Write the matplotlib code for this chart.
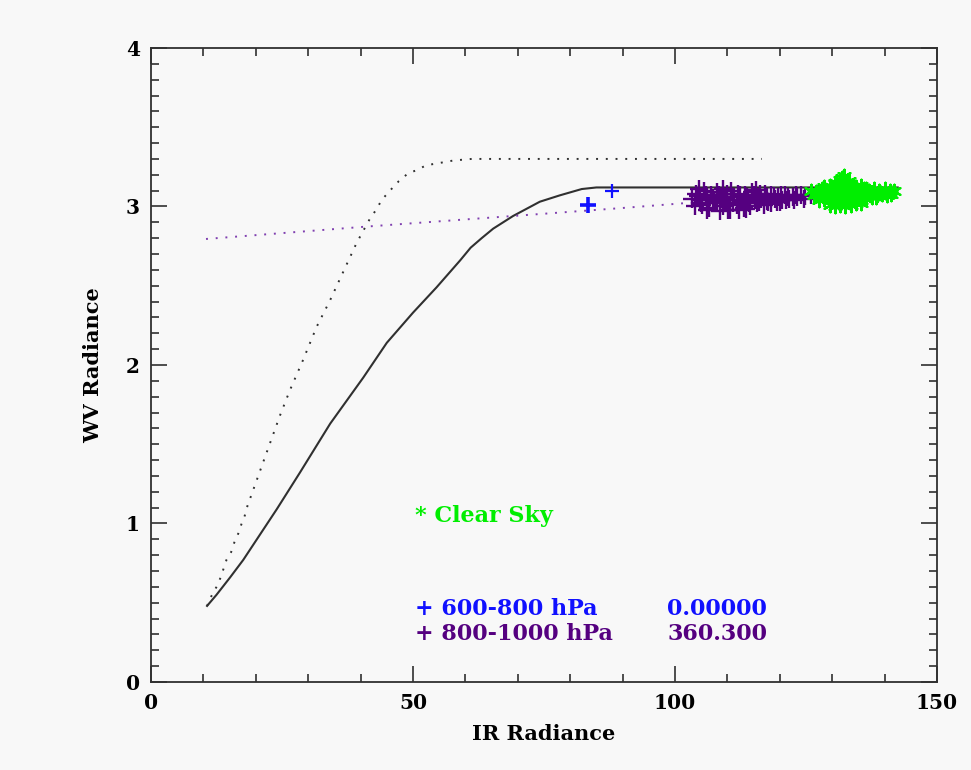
import matplotlib.pyplot as plt
from matplotlib.ticker import MultipleLocator

# model curve (solid) and second model curve (dotted)
curve_x = [10.7, 12.5, 15.1, 17.6, 20.2, 24.0, 28.4, 34.2, 40.5, 45.0, 50.0, 54.5,
           59.0, 61.0, 63.1, 65.3, 69.1, 74.2, 78.0, 82.2, 85.0, 142.5]
curve_y = [0.48, 0.55, 0.66, 0.77, 0.90, 1.09, 1.32, 1.63, 1.92, 2.14, 2.33, 2.49,
           2.66, 2.74, 2.80, 2.86, 2.94, 3.03, 3.07, 3.11, 3.12, 3.12]

dot_x = [10.7, 11.5, 12.5, 13.3, 14.4, 15.3, 15.9, 16.7, 17.3, 17.9, 18.4, 24.6,
         26.5, 29.0, 31.6, 34.2, 39.1, 39.9, 41.9, 43.0, 44.0, 45.6, 47.3, 49.1,
         50.8, 52.5, 54.3, 56.0, 57.7, 61.2, 116.6]
dot_y = [0.48, 0.54, 0.60, 0.66, 0.77, 0.82, 0.88, 0.94, 1.00, 1.05, 1.11, 1.68,
         1.84, 2.03, 2.24, 2.41, 2.76, 2.81, 2.93, 2.98, 3.04, 3.10, 3.16, 3.21,
         3.23, 3.26, 3.27, 3.28, 3.29, 3.30, 3.30]

# fit line (purple dotted)
fit_x = [10.5, 41.5, 69.1, 89.8, 101.5, 142.0]
fit_y = [2.795, 2.874, 2.94, 2.99, 3.02, 3.10]

# 600-800 hPa
blue_x = [83.4, 88.0]
blue_y = [3.01, 3.10]

# 800-1000 hPa
purple_x = [104.0, 105.5, 106.8, 108.0, 109.5, 110.7, 112.0, 113.3, 114.6, 115.8,
            117.1, 118.4, 119.7, 121.0, 122.5, 124.0,
            103.3, 104.7, 106.1, 107.4, 108.7, 110.0, 111.3, 112.6, 113.9, 115.2,
            116.5, 117.8, 119.1, 120.4, 121.7, 123.2, 124.6, 126.0, 127.3,
            103.8, 105.2, 106.5, 107.8, 109.1, 110.5, 111.8, 113.1, 114.4, 115.7,
            117.0, 118.3, 120.0,
            104.4, 105.9, 107.2, 108.4, 109.9, 111.1, 112.4, 113.7, 115.0, 116.2,
            117.5, 118.9, 120.2, 121.5, 123.0, 124.8,
            105.0, 106.4, 108.1, 109.6, 111.0, 112.9, 114.2, 116.0, 117.6, 119.4,
            121.2, 122.8,
            106.2, 108.6, 110.2, 112.2, 113.6, 104.6, 109.2, 115.4]
purple_y = [3.08, 3.10, 3.07, 3.09, 3.06, 3.10, 3.08, 3.07, 3.09, 3.06,
            3.08, 3.07, 3.06, 3.07, 3.06, 3.07,
            3.05, 3.04, 3.06, 3.03, 3.05, 3.04, 3.06, 3.03, 3.05, 3.04,
            3.05, 3.03, 3.05, 3.04, 3.05, 3.06, 3.05, 3.07, 3.08,
            3.00, 3.01, 2.99, 3.02, 3.00, 2.98, 3.01, 2.99, 3.00, 3.02,
            3.01, 3.02, 3.03,
            3.065, 3.075, 3.055, 3.07, 3.08, 3.06, 3.075, 3.06, 3.07, 3.08,
            3.06, 3.065, 3.075, 3.06, 3.07, 3.065,
            3.025, 3.02, 3.03, 3.02, 3.025, 3.03, 3.02, 3.03, 3.035, 3.03,
            3.04, 3.04,
            2.975, 2.97, 2.98, 2.975, 2.985, 3.11, 3.11, 3.105]

# clear sky
green_x = [130.5, 131.5, 132.3, 133.2, 131.9, 132.8,
           128.5, 129.5, 130.5, 131.5, 132.5, 133.5, 134.5, 135.5, 136.5,
           126.0, 127.0, 128.0, 129.0, 130.0, 131.0, 132.0, 133.0, 134.0, 135.0,
           136.0, 137.0, 138.0, 139.0, 140.0, 141.0, 141.7,
           126.5, 127.5, 128.5, 129.5, 130.5, 131.5, 132.5, 133.5, 134.5, 135.5,
           136.5, 137.5, 138.5, 139.5, 140.5, 141.3,
           127.5, 128.5, 129.5, 130.5, 131.5, 132.5, 133.5, 134.5, 135.5, 136.5,
           137.5, 138.3,
           129.5, 130.5, 131.5, 132.5, 133.5, 134.5, 135.5,
           127.0, 128.0, 129.0, 130.0, 131.0, 132.0, 133.0, 134.0, 135.0, 136.0,
           137.0, 138.0, 139.0, 140.0]
green_y = [3.15, 3.17, 3.19, 3.16, 3.18, 3.15,
           3.12, 3.13, 3.14, 3.13, 3.14, 3.13, 3.12, 3.13, 3.11,
           3.10, 3.09, 3.11, 3.10, 3.11, 3.10, 3.11, 3.10, 3.11, 3.10,
           3.11, 3.10, 3.11, 3.10, 3.11, 3.10, 3.10,
           3.07, 3.08, 3.07, 3.06, 3.07, 3.06, 3.07, 3.06, 3.07, 3.08,
           3.07, 3.08, 3.07, 3.08, 3.07, 3.08,
           3.04, 3.05, 3.04, 3.03, 3.04, 3.03, 3.04, 3.03, 3.04, 3.05,
           3.06, 3.06,
           3.01, 3.00, 3.01, 3.00, 3.01, 3.02, 3.02,
           3.085, 3.09, 3.085, 3.12, 3.125, 3.12, 3.125, 3.12, 3.09, 3.09,
           3.09, 3.09, 3.09, 3.09]

bg = '#f8f8f8'
ink = '#303030'
plt.rcParams['font.family'] = 'DejaVu Serif'

fig = plt.figure(figsize=(9.71, 7.70), dpi=100, facecolor=bg)
ax = fig.add_axes([0.1555, 0.1143, 0.8095, 0.8234], facecolor=bg)

ax.plot(curve_x, curve_y, color=ink, lw=1.5)
ax.plot(dot_x, dot_y, color=ink, lw=1.4, dashes=(1, 4))
ax.plot(fit_x, fit_y, color='#8040b0', lw=1.4, dashes=(1, 4))

ax.scatter(purple_x, purple_y, marker='+', s=150, color='#550080', linewidths=1.7, zorder=3)
ax.scatter(green_x, green_y, marker=(6, 2, 0), s=95, color='#00ee00', linewidths=1.6, zorder=4)
ax.scatter(blue_x, blue_y, marker='+', s=[130, 100], color='#1010ff', linewidths=[2.6, 1.6], zorder=5)

# annotation block
txt = dict(fontsize=16, fontweight='bold', va='center')
ax.text(50.4, 1.05, '* Clear Sky', color='#00ee00', **txt)
ax.text(50.4, 0.46, '+ 600-800 hPa', color='#1010ff', **txt)
ax.text(98.5, 0.46, '0.00000', color='#1010ff', **txt)
ax.text(50.4, 0.30, '+ 800-1000 hPa', color='#550080', **txt)
ax.text(98.5, 0.30, '360.300', color='#550080', **txt)

ax.set_xlim(0, 150)
ax.set_ylim(0, 4)
ax.xaxis.set_major_locator(MultipleLocator(50))
ax.xaxis.set_minor_locator(MultipleLocator(10))
ax.yaxis.set_major_locator(MultipleLocator(1))
ax.yaxis.set_minor_locator(MultipleLocator(0.1))
ax.tick_params(which='both', direction='in', top=True, right=True, color=ink, width=1.2,
               labelsize=14.5, labelcolor='black')
ax.tick_params(which='major', length=11.5, pad=8)
ax.tick_params(which='minor', length=5.8)
for lab in ax.get_xticklabels() + ax.get_yticklabels():
    lab.set_fontweight('bold')
for s in ax.spines.values():
    s.set_color(ink)
    s.set_linewidth(1.3)

ax.set_xlabel('IR Radiance', fontsize=15, fontweight='bold', labelpad=8)
ax.set_ylabel('WV Radiance', fontsize=15, fontweight='bold', labelpad=16)

fig.savefig('out.png', dpi=100, facecolor=bg)
